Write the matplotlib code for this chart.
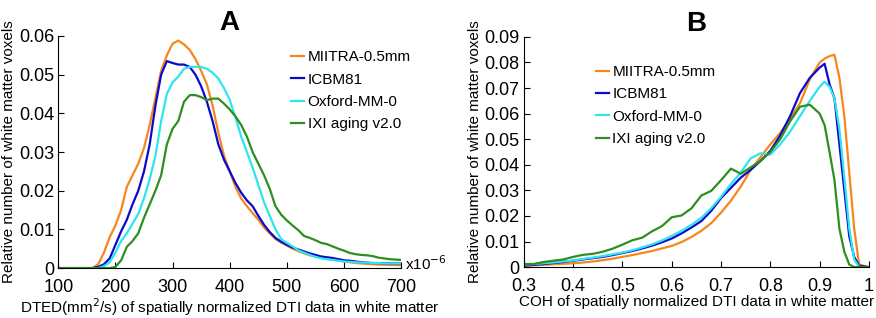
import matplotlib
matplotlib.use("Agg")
import matplotlib.pyplot as plt

plt.rcParams['font.family'] = ['Liberation Sans', 'DejaVu Sans']

# ---- data ----
series_names = ["MIITRA-0.5mm", "ICBM81", "Oxford-MM-0", "IXI aging v2.0"]
series_colors = ["#F7861C", "#0A0ACF", "#2EE5EC", "#2D8F1E"]

# Panel A: DTED (x1e-6 mm^2/s)
dted_x = [100, 110, 120, 130, 140, 150, 160, 170, 180, 190,
          200, 210, 220, 230, 240, 250, 260, 270, 280, 290,
          300, 310, 320, 330, 340, 350, 360, 370, 380, 390,
          400, 410, 420, 430, 440, 450, 460, 470, 480, 490,
          500, 510, 520, 530, 540, 550, 560, 570, 580, 590,
          600, 610, 620, 630, 640, 650, 660, 670, 680, 690, 700]
dted_miitra = [0, 0, 0, 0, 0, 0, 0, 0.001, 0.004, 0.008,
               0.011, 0.015, 0.021, 0.024, 0.027, 0.031, 0.037, 0.044, 0.051, 0.055,
               0.058, 0.0588, 0.0578, 0.0564, 0.054, 0.051, 0.0475, 0.042, 0.035, 0.029,
               0.025, 0.021, 0.018, 0.016, 0.0142, 0.0125, 0.0105, 0.009, 0.0075, 0.0066,
               0.0058, 0.005, 0.0044, 0.0038, 0.0033, 0.003, 0.0027, 0.0024, 0.0022, 0.002,
               0.0017, 0.0015, 0.0013, 0.0012, 0.0011, 0.001, 0.0009, 0.0009, 0.0008, 0.0008, 0.0007]
dted_icbm = [0, 0, 0, 0, 0, 0, 0, 0.0003, 0.001, 0.0025,
             0.006, 0.0095, 0.0125, 0.0165, 0.020, 0.025, 0.032, 0.042, 0.050, 0.0535,
             0.053, 0.0526, 0.0526, 0.052, 0.050, 0.047, 0.043, 0.038, 0.032, 0.028,
             0.025, 0.022, 0.0195, 0.0175, 0.016, 0.0135, 0.0112, 0.0093, 0.0078, 0.0068,
             0.006, 0.0053, 0.0048, 0.0043, 0.0038, 0.0034, 0.003, 0.0028, 0.0026, 0.0023,
             0.002, 0.0019, 0.0017, 0.0015, 0.0014, 0.0013, 0.0013, 0.0012, 0.0012, 0.0012, 0.0012]
dted_oxford = [0, 0, 0, 0, 0, 0, 0, 0, 0.0005, 0.0015,
               0.004, 0.007, 0.009, 0.0115, 0.014, 0.018, 0.023, 0.029, 0.038, 0.045,
               0.048, 0.0495, 0.0515, 0.052, 0.052, 0.052, 0.0515, 0.0505, 0.049, 0.0465,
               0.0435, 0.039, 0.034, 0.030, 0.026, 0.0215, 0.017, 0.0135, 0.010, 0.0075,
               0.0065, 0.0056, 0.0046, 0.004, 0.0034, 0.0029, 0.0025, 0.0023, 0.0021, 0.0019,
               0.0017, 0.0016, 0.0015, 0.0014, 0.0014, 0.0013, 0.0013, 0.0012, 0.0012, 0.0012, 0.0012]
dted_ixi = [0, 0, 0, 0, 0, 0, 0, 0, 0, 0,
            0.0003, 0.002, 0.0055, 0.007, 0.009, 0.013, 0.0165, 0.020, 0.024, 0.032,
            0.036, 0.038, 0.043, 0.0447, 0.0447, 0.0442, 0.0434, 0.0438, 0.0438, 0.0425,
            0.041, 0.0392, 0.037, 0.034, 0.030, 0.027, 0.024, 0.0205, 0.016, 0.0138,
            0.0123, 0.011, 0.0098, 0.0083, 0.0078, 0.0072, 0.0065, 0.0062, 0.0056, 0.005,
            0.0045, 0.0039, 0.0036, 0.0034, 0.0033, 0.0031, 0.0027, 0.0025, 0.0023, 0.0022, 0.0021]

# Panel B: COH
coh_x = [0.30, 0.32, 0.34, 0.36, 0.38, 0.40, 0.42, 0.44, 0.46, 0.48,
         0.50, 0.52, 0.54, 0.56, 0.58, 0.60, 0.62, 0.64, 0.66, 0.68,
         0.70, 0.72, 0.74, 0.76, 0.78, 0.80, 0.82, 0.84, 0.86, 0.88,
         0.90, 0.91, 0.92, 0.93, 0.94, 0.95, 0.96, 0.97, 0.98, 1.00]
coh_miitra = [0.0005, 0.0007, 0.0009, 0.0011, 0.0013, 0.0015, 0.0018, 0.0022, 0.0027, 0.0033,
              0.004, 0.0047, 0.0055, 0.0063, 0.0073, 0.0083, 0.0098, 0.0118, 0.0142, 0.0172,
              0.0213, 0.026, 0.0315, 0.038, 0.043, 0.048, 0.0525, 0.058, 0.064, 0.0735,
              0.080, 0.0815, 0.0825, 0.083, 0.074, 0.059, 0.037, 0.015, 0.001, 0.0]
coh_icbm = [0.0006, 0.0009, 0.0012, 0.0016, 0.002, 0.0025, 0.003, 0.0035, 0.004, 0.0047,
            0.0055, 0.0063, 0.0073, 0.0084, 0.0097, 0.0112, 0.0132, 0.0155, 0.018, 0.022,
            0.027, 0.031, 0.035, 0.038, 0.0415, 0.0455, 0.0515, 0.059, 0.068, 0.074,
            0.078, 0.0795, 0.0715, 0.066, 0.048, 0.030, 0.012, 0.004, 0.0005, 0.0]
coh_oxford = [0.001, 0.0012, 0.0015, 0.0018, 0.0022, 0.0026, 0.0032, 0.0037, 0.0043, 0.005,
              0.0057, 0.0066, 0.0077, 0.0089, 0.0104, 0.0122, 0.0142, 0.0165, 0.0193, 0.023,
              0.0275, 0.0325, 0.037, 0.0425, 0.0445, 0.044, 0.048, 0.053, 0.059, 0.065,
              0.0705, 0.0725, 0.0705, 0.066, 0.054, 0.035, 0.015, 0.003, 0.0, 0.0]
coh_ixi = [0.0012, 0.0012, 0.002, 0.0025, 0.003, 0.004, 0.0048, 0.0052, 0.006, 0.0072,
           0.0088, 0.0105, 0.0115, 0.014, 0.016, 0.0195, 0.0202, 0.023, 0.028, 0.0298,
           0.034, 0.0385, 0.0365, 0.039, 0.0415, 0.045, 0.050, 0.057, 0.0627, 0.0635,
           0.060, 0.0555, 0.045, 0.034, 0.015, 0.006, 0.001, 0.0, 0.0, 0.0]

dted_series = [dted_miitra, dted_icbm, dted_oxford, dted_ixi]
coh_series = [coh_miitra, coh_icbm, coh_oxford, coh_ixi]

fig = plt.figure(figsize=(8.76, 3.18), dpi=100)
ax_a = fig.add_axes([0.0665, 0.157, 0.3915, 0.73])
ax_b = fig.add_axes([0.598, 0.160, 0.394, 0.724])


def style_axes(ax):
    for side in ['top', 'right']:
        ax.spines[side].set_visible(False)
    for side in ['left', 'bottom']:
        ax.spines[side].set_linewidth(0.8)
    ax.tick_params(direction='in', length=4, width=0.8, labelsize=13)
    ax.tick_params(axis='x', pad=8)
    ax.tick_params(axis='y', pad=3)


for vals, name, col in zip(dted_series, series_names, series_colors):
    ax_a.plot(dted_x, vals, color=col, lw=1.6, label=name)
ax_a.set_xlim(100, 700)
ax_a.set_ylim(0, 0.06)
ax_a.set_xticks([100, 200, 300, 400, 500, 600, 700])
ax_a.set_yticks([0, 0.01, 0.02, 0.03, 0.04, 0.05, 0.06])
ax_a.set_yticklabels(['0', '0.01', '0.02', '0.03', '0.04', '0.05', '0.06'])
style_axes(ax_a)
ax_a.set_xlabel('DTED(mm$^2$/s) of spatially normalized DTI data in white matter',
                fontsize=11, labelpad=0)
ax_a.set_ylabel('Relative number of white matter voxels', fontsize=11, labelpad=2)
ax_a.set_title('A', fontsize=20, fontweight='bold', pad=4)
ax_a.text(1.01, 0.02, 'x10$^{-6}$', transform=ax_a.transAxes, fontsize=11,
          ha='left', va='center')
ax_a.legend(loc='upper left', bbox_to_anchor=(0.66, 0.965), frameon=False,
            fontsize=11, handlelength=0.9, handletextpad=0.2, labelspacing=0.55,
            borderaxespad=0)

for vals, name, col in zip(coh_series, series_names, series_colors):
    ax_b.plot(coh_x, vals, color=col, lw=1.6, label=name)
ax_b.set_xlim(0.3, 1.0)
ax_b.set_ylim(0, 0.09)
ax_b.set_xticks([0.3, 0.4, 0.5, 0.6, 0.7, 0.8, 0.9, 1.0])
ax_b.set_xticklabels(['0.3', '0.4', '0.5', '0.6', '0.7', '0.8', '0.9', '1'])
ax_b.set_yticks([0, 0.01, 0.02, 0.03, 0.04, 0.05, 0.06, 0.07, 0.08, 0.09])
ax_b.set_yticklabels(['0', '0.01', '0.02', '0.03', '0.04', '0.05', '0.06',
                      '0.07', '0.08', '0.09'])
style_axes(ax_b)
ax_b.set_xlabel('COH of spatially normalized DTI data in white matter',
                fontsize=11, labelpad=0)
ax_b.set_ylabel('Relative number of white matter voxels', fontsize=11, labelpad=2)
ax_b.set_title('B', fontsize=20, fontweight='bold', pad=4)
ax_b.legend(loc='upper left', bbox_to_anchor=(0.19, 0.905), frameon=False,
            fontsize=11, handlelength=0.9, handletextpad=0.2, labelspacing=0.55,
            borderaxespad=0)

plt.savefig('out.png', dpi=100)
